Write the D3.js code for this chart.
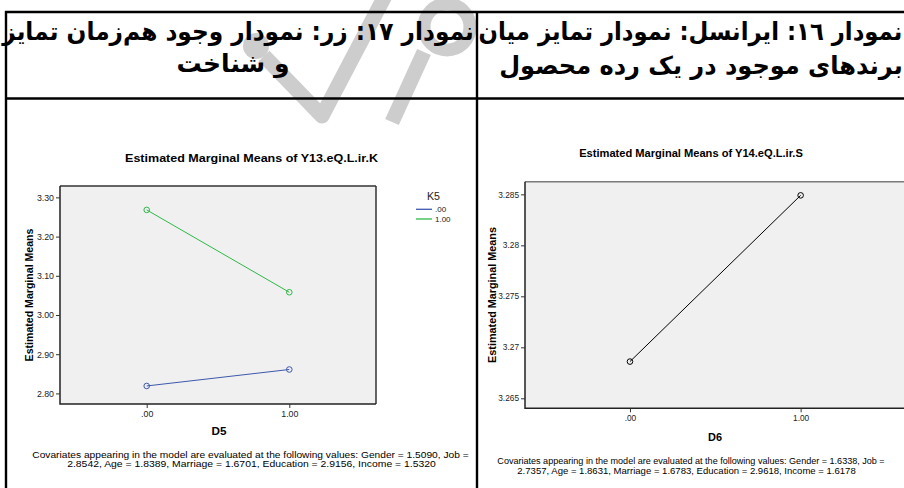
<!DOCTYPE html>
<html><head><meta charset="utf-8">
<script src="https://cdn.jsdelivr.net/npm/d3@7/dist/d3.min.js"></script>
<style>html,body{margin:0;padding:0;background:#fff;}svg{display:block}</style>
</head><body>
<svg id="c" width="904" height="488"></svg>
<script>
// ---------- data ----------
const headerLeft = ["نمودار ١٧: زر: نمودار وجود هم‌زمان تمایز", "و شناخت"];
const headerRight = ["نمودار ١٦: ایرانسل: نمودار تمایز میان", "برندهای موجود در یک رده محصول"];

const chart1Title = "Estimated Marginal Means of Y13.eQ.L.ir.K";
const chart1XName = "D5";
const chart1XValues = [0, 1];
const chart1XLabels = [".00", "1.00"];
const chart1YTicks = [2.80, 2.90, 3.00, 3.10, 3.20, 3.30];
const chart1YLabels = ["2.80", "2.90", "3.00", "3.10", "3.20", "3.30"];
const legendTitle = "K5";
const legendLabels = [".00", "1.00"];
const k5Low = [2.819, 2.861];    // K5 = .00
const k5High = [3.268, 3.058];   // K5 = 1.00
const seriesColors = ["#3e58ac", "#2eb848"];
const chart1Note = ["Covariates appearing in the model are evaluated at the following values: Gender = 1.5090, Job =",
                    "2.8542, Age = 1.8389, Marriage = 1.6701, Education = 2.9156, Income = 1.5320"];

const chart2Title = "Estimated Marginal Means of Y14.eQ.L.ir.S";
const chart2XName = "D6";
const chart2XValues = [0, 1];
const chart2XLabels = [".00", "1.00"];
const chart2YTicks = [3.265, 3.27, 3.275, 3.28, 3.285];
const chart2YLabels = ["3.265", "3.27", "3.275", "3.28", "3.285"];
const d6Means = [3.2686, 3.2849];
const chart2Note = ["Covariates appearing in the model are evaluated at the following values: Gender = 1.6338, Job =",
                    "2.7357, Age = 1.8631, Marriage = 1.6783, Education = 2.9618, Income = 1.6178"];
const yAxisName = "Estimated Marginal Means";

// ---------- helpers ----------
const FONT = "Arial, 'Liberation Sans', sans-serif";
const svg = d3.select("#c");

function label(parent, str, cx, by, target, o = {}) {
  const t = parent.append("text").attr("text-anchor", "middle")
    .attr("font-family", o.family || FONT).attr("font-size", o.size || 9)
    .attr("font-weight", o.weight || "normal").attr("fill", o.fill || "#000").text(str);
  if (o.rtl) t.attr("direction", "rtl");
  const w = t.node().getComputedTextLength();
  const k = target ? target / w : 1;
  t.attr("transform", `translate(${cx},${by}) rotate(${o.rot || 0}) scale(${k},1)`);
  return t;
}

// ---------- watermark ----------
const WM = "#cdcdcd";
const wm = svg.append("g").attr("fill", "none").attr("stroke", WM);
wm.append("circle").attr("cx", 256).attr("cy", 46).attr("r", 13).attr("fill", WM).attr("stroke", "none");
wm.append("path").attr("d", "M264,56 L322,116 L386,-6").attr("stroke-width", 15).attr("stroke-linejoin", "round");
wm.append("path").attr("d", "M392,122 L424,52").attr("stroke-width", 15);
wm.append("circle").attr("cx", 447).attr("cy", 27).attr("r", 23).attr("stroke-width", 13);

// ---------- table header ----------
const AR = "'DejaVu Sans', sans-serif";
label(svg, headerLeft[0], 238, 40, 472, {family: AR, size: 25, weight: "bold", rtl: true});
label(svg, headerLeft[1], 233, 72, 113, {family: AR, size: 25, weight: "bold", rtl: true});
label(svg, headerRight[0], 690.5, 40, 424, {family: AR, size: 25, weight: "bold", rtl: true});
label(svg, headerRight[1], 701, 74, 404, {family: AR, size: 25, weight: "bold", rtl: true});

const bord = svg.append("g").attr("stroke", "#000").attr("stroke-width", 2.4).attr("fill", "none");
bord.append("path").attr("d", "M5,12 H904");
bord.append("path").attr("d", "M5,98.5 H904");
bord.append("path").attr("d", "M6,11 V488");
bord.append("path").attr("d", "M477,11 V488");

// ---------- generic chart ----------
function drawChart(cfg) {
  const g = svg.append("g");
  const {x, y} = cfg;
  const [x0, x1] = x.range(), [y1, y0] = y.range();
  g.append("rect").attr("x", x0).attr("y", y0).attr("width", x1 - x0).attr("height", y1 - y0)
    .attr("fill", "#f0f0f0");
  const fr = g.append("g").attr("fill", "none").attr("stroke-width", 1.5);
  fr.append("path").attr("d", `M${x0},${y0} H${x1}`).attr("stroke", cfg.topStroke);
  fr.append("path").attr("d", `M${x1},${y0} V${y1}`).attr("stroke", cfg.topStroke);
  fr.append("path").attr("d", `M${x0},${y0} V${y1} H${x1}`).attr("stroke", "#222");

  const ya = g.append("g").attr("transform", `translate(${x0},0)`)
    .call(d3.axisLeft(y).tickValues(cfg.yTicks).tickFormat((d, i) => cfg.yLabels[i]).tickSize(4).tickPadding(2));
  const xa = g.append("g").attr("transform", `translate(0,${y1})`)
    .call(d3.axisBottom(x).tickValues(cfg.xValues).tickFormat((d, i) => cfg.xLabels[i]).tickSize(4).tickPadding(3));
  [ya, xa].forEach(a => {
    a.select(".domain").remove();
    a.selectAll("line").attr("stroke", "#333");
    a.selectAll("text").attr("font-family", FONT).attr("fill", "#222").attr("font-size", cfg.tickSize);
  });

  const line = d3.line().x((d, i) => x(cfg.xValues[i])).y(d => y(d));
  cfg.series.forEach(s => {
    g.append("path").datum(s.values).attr("d", line).attr("fill", "none")
      .attr("stroke", s.color).attr("stroke-width", 1);
    g.selectAll(null).data(s.values).enter().append("circle")
      .attr("cx", (d, i) => x(cfg.xValues[i])).attr("cy", d => y(d)).attr("r", 2.8)
      .attr("fill", "none").attr("stroke", s.color).attr("stroke-width", 1);
  });

  label(g, cfg.title, cfg.titleX, cfg.titleY, cfg.titleW, {weight: "bold", size: 10.5});
  label(g, yAxisName, cfg.yNameX, (y0 + y1) / 2, cfg.yNameW, {weight: "bold", size: 10.5, rot: -90});
  label(g, cfg.xName, cfg.xNameX, cfg.xNameY, cfg.xNameW, {weight: "bold", size: 11});
  cfg.note.forEach((s, i) => label(g, s, cfg.noteX[i], cfg.noteY[i], cfg.noteW[i], {size: 9}));
  return g;
}

// ---------- chart 1 ----------
const x1s = d3.scaleLinear().domain([-0.608, 1.608]).range([60, 376]);
const y1s = d3.scaleLinear().domain([2.773, 3.329]).range([404, 186]);
drawChart({
  x: x1s, y: y1s, xValues: chart1XValues, xLabels: chart1XLabels,
  yTicks: chart1YTicks, yLabels: chart1YLabels, tickSize: 8.8, topStroke: "#333",
  series: [{values: k5Low, color: seriesColors[0]}, {values: k5High, color: seriesColors[1]}],
  title: chart1Title, titleX: 251.5, titleY: 162, titleW: 253,
  yNameX: 32.5, yNameW: 133,
  xName: chart1XName, xNameX: 219, xNameY: 434.5, xNameW: 15,
  note: chart1Note, noteX: [250.5, 251.5], noteY: [457.5, 466.8], noteW: [437, 369]
});
// legend
const lg = svg.append("g");
label(lg, legendTitle, 433.5, 199.5, 13, {size: 10, fill: "#222"});
legendLabels.forEach((l, i) => {
  const ly = [209.3, 219][i];
  lg.append("line").attr("x1", 416).attr("x2", 432).attr("y1", ly).attr("y2", ly)
    .attr("stroke", seriesColors[i]).attr("stroke-width", 1.3);
  lg.append("text").attr("x", 435).attr("y", ly + 2.8).attr("font-family", FONT)
    .attr("font-size", 8).attr("fill", "#222").text(l);
});

// ---------- chart 2 ----------
const x2s = d3.scaleLinear().domain([-0.615, 1.615]).range([525, 905.6]);
const y2s = d3.scaleLinear().domain([3.26402, 3.28624]).range([408.3, 181.7]);
drawChart({
  x: x2s, y: y2s, xValues: chart2XValues, xLabels: chart2XLabels,
  yTicks: chart2YTicks, yLabels: chart2YLabels, tickSize: 8.3, topStroke: "#7a7a7a",
  series: [{values: d6Means, color: "#000"}],
  title: chart2Title, titleX: 691, titleY: 156.5, titleW: 224,
  yNameX: 496, yNameW: 136,
  xName: chart2XName, xNameX: 715, xNameY: 440.5, xNameW: 14,
  note: chart2Note, noteX: [691, 686.5], noteY: [464.3, 473.6], noteW: [388, 339]
});
</script>
</body></html>
